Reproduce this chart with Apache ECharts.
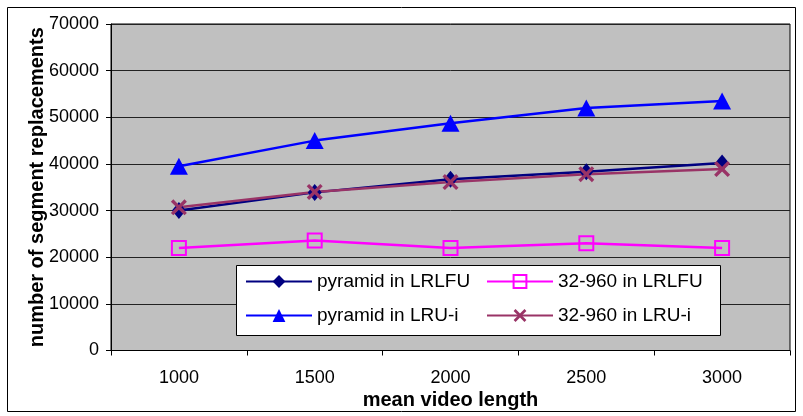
<!DOCTYPE html>
<html>
<head>
<meta charset="utf-8">
<script src="https://cdn.jsdelivr.net/npm/echarts@6/dist/echarts.min.js"></script>
<style>html,body{margin:0;padding:0;background:#fff}#c{width:803px;height:416px}</style>
</head>
<body>
<div id="c"></div>
<script>
const categories = ['1000', '1500', '2000', '2500', '3000'];
const pyramidLRLFU = [30000, 33900, 36700, 38300, 40200];
const s32LRLFU = [22000, 23600, 22000, 23000, 22000];
const pyramidLRUi = [39500, 45000, 48700, 52000, 53500];
const s32LRUi = [30700, 34000, 36100, 37800, 38900];
const yTicks = { min: 0, max: 70000, interval: 10000 };

const FONT = 'Liberation Sans, Arial, sans-serif';
const xPath = 'path://M0,1.5 L1.5,0 L5,3.5 L8.5,0 L10,1.5 L6.5,5 L10,8.5 L8.5,10 L5,6.5 L1.5,10 L0,8.5 L3.5,5 Z';

const chart = echarts.init(document.getElementById('c'), null, { renderer: 'canvas' });
chart.setOption({
  animation: false,
  backgroundColor: '#fff',
  grid: {
    left: 111, top: 24, right: 13, bottom: 65.5,
    containLabel: false,
    show: true, backgroundColor: '#C0C0C0', borderColor: '#000', borderWidth: 1
  },
  xAxis: {
    type: 'category', data: categories, boundaryGap: true,
    name: 'mean video length', nameLocation: 'middle', nameGap: 40, nameMoveOverlap: false,
    nameTextStyle: { fontFamily: FONT, fontSize: 20, fontWeight: 'bold', color: '#000' },
    axisLine: { lineStyle: { color: '#000', width: 1 } },
    axisTick: { show: true, length: 5, lineStyle: { color: '#000' }, alignWithLabel: false },
    axisLabel: { fontFamily: FONT, fontSize: 18, color: '#000', margin: 19 },
    splitLine: { show: false }
  },
  yAxis: {
    type: 'value', min: yTicks.min, max: yTicks.max, interval: yTicks.interval,
    name: 'number of segment replacements', nameLocation: 'middle', nameGap: 64, nameRotate: 90,
    nameMoveOverlap: false,
    nameTextStyle: { fontFamily: FONT, fontSize: 20, fontWeight: 'bold', color: '#000' },
    axisLine: { show: true, lineStyle: { color: '#000', width: 1 } },
    axisTick: { show: true, length: 5, lineStyle: { color: '#000' } },
    axisLabel: { fontFamily: FONT, fontSize: 18, color: '#000', margin: 12,
      formatter: function (v) { return String(v); } },
    splitLine: { show: true, lineStyle: { color: '#222', width: 1 } }
  },
  legend: [
    {
      left: 245, top: 272, orient: 'vertical', padding: 0, itemGap: 15, z: 10,
      itemWidth: 66, itemHeight: 16,
      textStyle: { fontFamily: FONT, fontSize: 19, color: '#000' },
      data: ['pyramid in LRLFU', 'pyramid in LRU-i']
    },
    {
      left: 486, top: 272, orient: 'vertical', padding: 0, itemGap: 15, z: 10,
      itemWidth: 66, itemHeight: 16,
      textStyle: { fontFamily: FONT, fontSize: 19, color: '#000' },
      data: ['32-960 in LRLFU', '32-960 in LRU-i']
    }
  ],
  graphic: [
    { type: 'rect', z: 8, shape: { x: 236.5, y: 265.5, width: 484, height: 70 },
      style: { fill: '#fff', stroke: '#000', lineWidth: 1 } },
    { type: 'rect', z: 0, silent: true, shape: { x: 7.5, y: 7.5, width: 788, height: 404 },
      style: { fill: 'none', stroke: '#000', lineWidth: 1 } }
  ],
  series: [
    {
      name: 'pyramid in LRLFU', type: 'line', data: pyramidLRLFU,
      symbol: 'diamond', symbolSize: [14, 17],
      itemStyle: { color: '#000080' }, lineStyle: { color: '#000080', width: 2.5 }
    },
    {
      name: '32-960 in LRLFU', type: 'line', data: s32LRLFU,
      symbol: 'rect', symbolSize: 14,
      itemStyle: { color: 'rgba(0,0,0,0)', borderColor: '#FF00FF', borderWidth: 2 },
      lineStyle: { color: '#FF00FF', width: 2.5 }
    },
    {
      name: 'pyramid in LRU-i', type: 'line', data: pyramidLRUi,
      symbol: 'triangle', symbolSize: [18, 17],
      itemStyle: { color: '#0000FF' }, lineStyle: { color: '#0000FF', width: 2.5 }
    },
    {
      name: '32-960 in LRU-i', type: 'line', data: s32LRUi,
      symbol: xPath, symbolSize: 16,
      itemStyle: { color: '#993366' }, lineStyle: { color: '#993366', width: 2.5 }
    }
  ]
});
</script>
</body>
</html>
